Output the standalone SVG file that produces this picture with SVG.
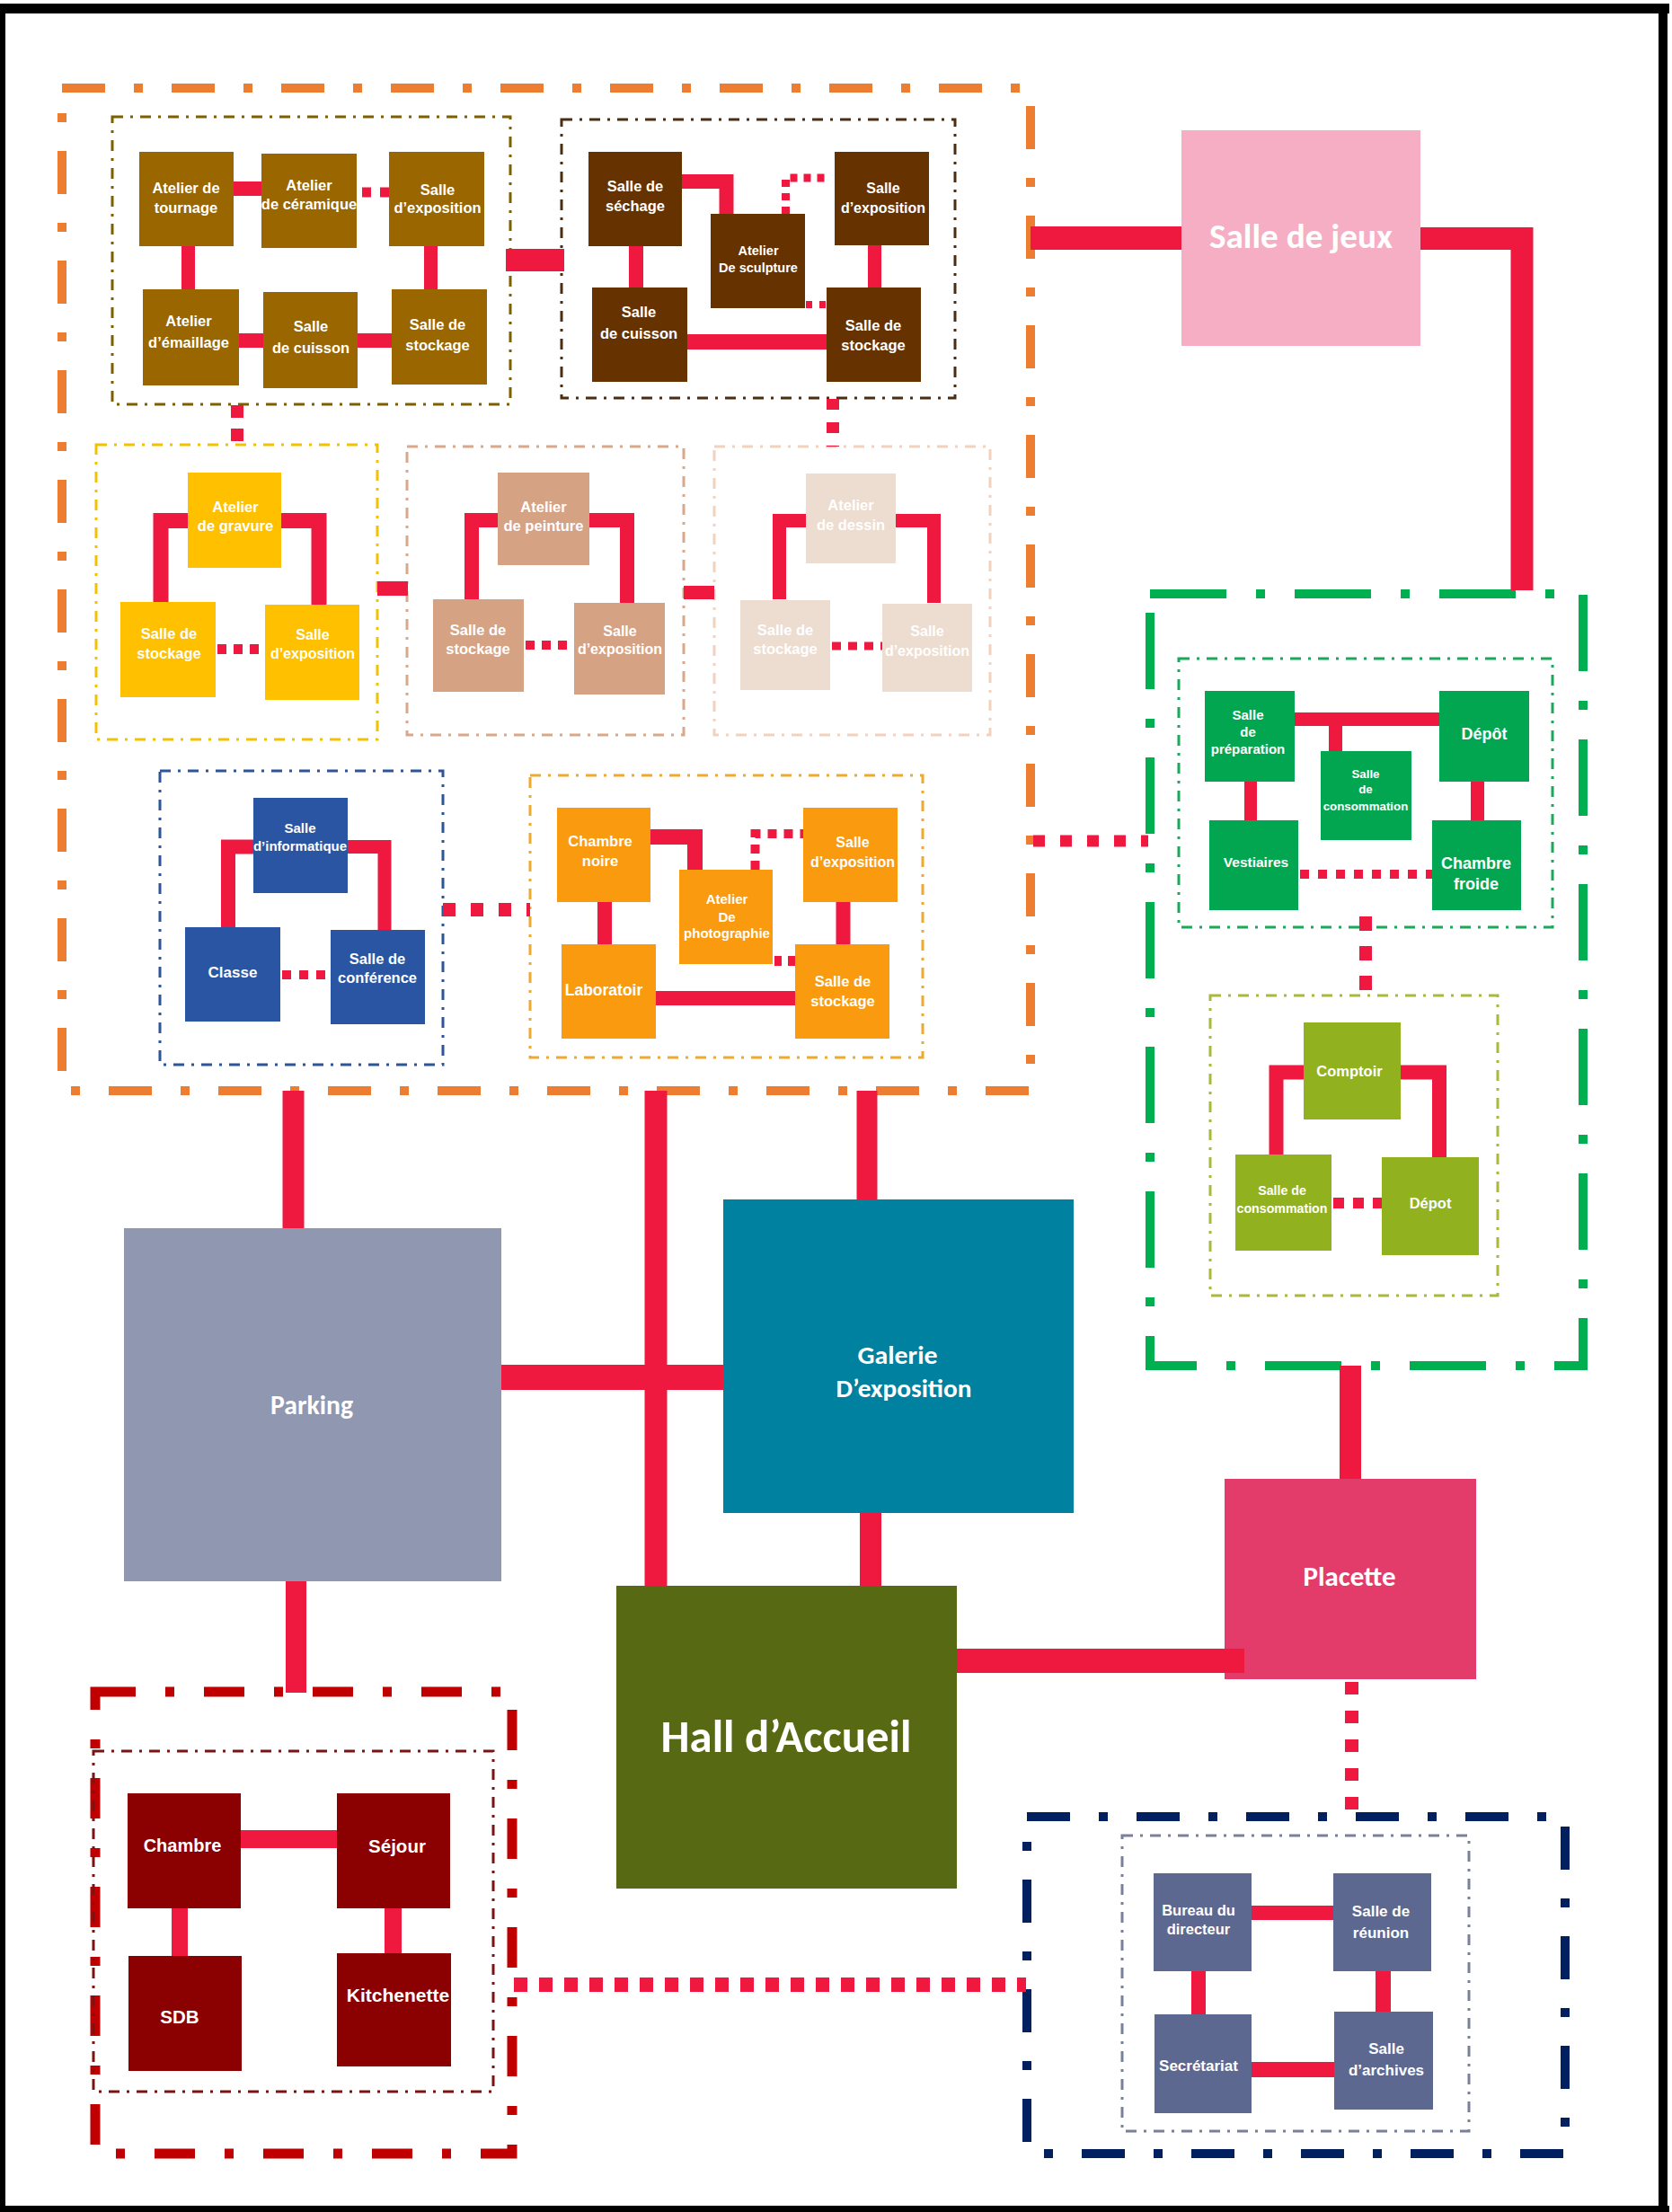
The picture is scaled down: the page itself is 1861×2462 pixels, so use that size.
<svg xmlns="http://www.w3.org/2000/svg" width="1861" height="2462" viewBox="0 0 1861 2462">
<defs>
<style>
  .zone { fill: none; }
  .outer { stroke-width: 10; stroke-dasharray: 48 32 10 32; }
  .inner { stroke-width: 3; stroke-dasharray: 12 8 3 8; }
  .t { font-family: "Liberation Sans", Arial, sans-serif; font-weight: bold; fill: #ffffff; text-anchor: middle; font-size: 16.5px; }
  .big { font-family: Carlito, Lato, "Open Sans", sans-serif; font-weight: bold; fill: #ffffff; text-anchor: middle; }
  .link { fill: none; stroke: #EF1940; stroke-linecap: butt; stroke-linejoin: miter; }
  .b1 { fill: #996600; } .b2 { fill: #663300; } .ye { fill: #FFC000; } .pe { fill: #D5A283; }
  .li { fill: #EDDCD0; } .bl { fill: #2A55A3; } .or { fill: #FA9A0E; } .gr { fill: #03A650; }
  .ol { fill: #92B11E; } .dr { fill: #8B0000; } .sl { fill: #5D6890; }
</style>
</defs>

<rect x="0" y="0" width="1861" height="2462" fill="#ffffff"/>

<!-- page frame -->
<g id="frame" fill="#000000">
  <rect x="0" y="4" width="1858" height="11"/>
  <rect x="0" y="4" width="6" height="2458"/>
  <rect x="1846" y="4" width="10" height="2458"/>
  <rect x="0" y="2455" width="1858" height="7"/>
</g>

<!-- zone outlines -->
<g id="zones" class="zone">
  <rect x="69" y="98" width="1078" height="1116" class="outer" stroke="#ED7D31"/>
  <rect x="125" y="130" width="443" height="320" class="inner" stroke="#7F6000"/>
  <rect x="625" y="133" width="438" height="310" class="inner" stroke="#4B2E12"/>
  <rect x="107" y="495" width="313" height="328" class="inner" stroke="#F2C200"/>
  <rect x="453" y="497" width="308" height="321" class="inner" stroke="#D9A88A"/>
  <rect x="795" y="497" width="307" height="321" class="inner" stroke="#F2D2BE"/>
  <rect x="178" y="858" width="315" height="327" class="inner" stroke="#2E5597"/>
  <rect x="590" y="863" width="437" height="314" class="inner" stroke="#EDAA2E"/>
  <rect x="1280" y="661" width="482" height="859" class="zone" stroke="#00B050" stroke-width="10" stroke-dasharray="85 33 10 33"/>
  <rect x="1312" y="733" width="416" height="299" class="inner" stroke="#1AA85A"/>
  <rect x="1347" y="1108" width="320" height="334" class="inner" stroke="#AAB93C"/>
  <rect x="106" y="1883" width="464" height="514" class="zone" stroke="#C00000" stroke-width="11" stroke-dasharray="45 33 10 33"/>
  <rect x="104" y="1949" width="445" height="379" class="inner" stroke="#7A1414"/>
  <rect x="1143" y="2022" width="599" height="375" class="outer" stroke="#002060" stroke-dasharray="42 33 10 33"/>
  <rect x="1249" y="2043" width="386" height="329" class="inner" stroke="#7A8099"/>
</g>

<!-- ceramics workshop -->
<g id="n-tournage"><rect x="155" y="169" width="105" height="105" class="b1"/><text class="t" x="207"><tspan x="207" y="215">Atelier  de</tspan><tspan x="207" y="237">tournage</tspan></text></g>
<g id="n-ceramique"><rect x="291" y="171" width="106" height="105" class="b1"/><text class="t" x="344"><tspan x="344" y="212">Atelier</tspan><tspan x="344" y="233">de céramique</tspan></text></g>
<g id="n-expo1"><rect x="433" y="169" width="106" height="105" class="b1"/><text class="t" x="487"><tspan x="487" y="217">Salle</tspan><tspan x="487" y="237">d’exposition</tspan></text></g>
<g id="n-emaillage"><rect x="159" y="322" width="107" height="107" class="b1"/><text class="t" x="210"><tspan x="210" y="363">Atelier</tspan><tspan x="210" y="387">d’émaillage</tspan></text></g>
<g id="n-cuisson1"><rect x="293" y="325" width="105" height="107" class="b1"/><text class="t" x="346"><tspan x="346" y="369">Salle</tspan><tspan x="346" y="393">de cuisson</tspan></text></g>
<g id="n-stockage1"><rect x="436" y="322" width="106" height="106" class="b1"/><text class="t" x="487"><tspan x="487" y="367">Salle de</tspan><tspan x="487" y="390">stockage</tspan></text></g>

<!-- sculpture workshop -->
<g id="n-sechage"><rect x="655" y="169" width="104" height="105" class="b2"/><text class="t" x="707"><tspan x="707" y="213">Salle  de</tspan><tspan x="707" y="235">séchage</tspan></text></g>
<g id="n-sculpture"><rect x="791" y="238" width="105" height="105" class="b2"/><text class="t" x="844" style="font-size:14.5px"><tspan x="844" y="284">Atelier</tspan><tspan x="844" y="303">De sculpture</tspan></text></g>
<g id="n-expo2"><rect x="929" y="169" width="105" height="104" class="b2"/><text class="t" x="983" style="font-size:16px"><tspan x="983" y="215">Salle</tspan><tspan x="983" y="237">d’exposition</tspan></text></g>
<g id="n-cuisson2"><rect x="659" y="320" width="106" height="105" class="b2"/><text class="t" x="711"><tspan x="711" y="353">Salle</tspan><tspan x="711" y="377">de cuisson</tspan></text></g>
<g id="n-stockage2"><rect x="920" y="320" width="105" height="105" class="b2"/><text class="t" x="972"><tspan x="972" y="368">Salle  de</tspan><tspan x="972" y="390">stockage</tspan></text></g>

<!-- engraving workshop -->
<g id="n-gravure"><rect x="209" y="526" width="104" height="106" class="ye"/><text class="t" x="262"><tspan x="262" y="570">Atelier</tspan><tspan x="262" y="591">de gravure</tspan></text></g>
<g id="n-stockage3"><rect x="134" y="670" width="106" height="106" class="ye"/><text class="t" x="188"><tspan x="188" y="711">Salle de</tspan><tspan x="188" y="733">stockage</tspan></text></g>
<g id="n-expo3"><rect x="295" y="673" width="105" height="106" class="ye"/><text class="t" x="348" style="font-size:16px"><tspan x="348" y="712">Salle</tspan><tspan x="348" y="733">d’exposition</tspan></text></g>

<!-- painting workshop -->
<g id="n-peinture"><rect x="554" y="526" width="102" height="103" class="pe"/><text class="t" x="605"><tspan x="605" y="570">Atelier</tspan><tspan x="605" y="591">de peinture</tspan></text></g>
<g id="n-stockage4"><rect x="482" y="667" width="101" height="103" class="pe"/><text class="t" x="532"><tspan x="532" y="707">Salle de</tspan><tspan x="532" y="728">stockage</tspan></text></g>
<g id="n-expo4"><rect x="639" y="671" width="101" height="102" class="pe"/><text class="t" x="690" style="font-size:16px"><tspan x="690" y="708">Salle</tspan><tspan x="690" y="728">d’exposition</tspan></text></g>

<!-- drawing workshop -->
<g id="n-dessin"><rect x="897" y="527" width="100" height="100" class="li"/><text class="t" x="947"><tspan x="947" y="568">Atelier</tspan><tspan x="947" y="590">de dessin</tspan></text></g>
<g id="n-stockage5"><rect x="824" y="668" width="100" height="100" class="li"/><text class="t" x="874"><tspan x="874" y="707">Salle de</tspan><tspan x="874" y="728">stockage</tspan></text></g>
<g id="n-expo5"><rect x="982" y="672" width="100" height="98" class="li"/><text class="t" x="1032" style="font-size:16px"><tspan x="1032" y="708">Salle</tspan><tspan x="1032" y="730">d’exposition</tspan></text></g>

<!-- teaching rooms -->
<g id="n-informatique"><rect x="282" y="888" width="105" height="106" class="bl"/><text class="t" x="334" style="font-size:15px"><tspan x="334" y="927">Salle</tspan><tspan x="334" y="947">d’informatique</tspan></text></g>
<g id="n-classe"><rect x="206" y="1032" width="106" height="105" class="bl"/><text class="t" x="259" y="1088" style="font-size:17px">Classe</text></g>
<g id="n-conference"><rect x="368" y="1035" width="105" height="105" class="bl"/><text class="t" x="420"><tspan x="420" y="1073">Salle de</tspan><tspan x="420" y="1094">conférence</tspan></text></g>

<!-- photography workshop -->
<g id="n-chambrenoire"><rect x="620" y="899" width="104" height="105" class="or"/><text class="t" x="668"><tspan x="668" y="942">Chambre</tspan><tspan x="668" y="964">noire</tspan></text></g>
<g id="n-photo"><rect x="756" y="968" width="104" height="105" class="or"/><text class="t" x="809" style="font-size:15px"><tspan x="809" y="1006">Atelier</tspan><tspan x="809" y="1026">De</tspan><tspan x="809" y="1044">photographie</tspan></text></g>
<g id="n-expo6"><rect x="894" y="899" width="105" height="105" class="or"/><text class="t" x="949" style="font-size:16px"><tspan x="949" y="943">Salle</tspan><tspan x="949" y="965">d’exposition</tspan></text></g>
<g id="n-labo"><rect x="625" y="1051" width="105" height="105" class="or"/><text class="t" x="672" y="1108" style="font-size:17.5px">Laboratoir</text></g>
<g id="n-stockage6"><rect x="885" y="1051" width="105" height="105" class="or"/><text class="t" x="938"><tspan x="938" y="1098">Salle de</tspan><tspan x="938" y="1120">stockage</tspan></text></g>

<!-- restaurant kitchen -->
<g id="n-preparation"><rect x="1341" y="769" width="100" height="101" class="gr"/><text class="t" x="1389" style="font-size:15px"><tspan x="1389" y="801">Salle</tspan><tspan x="1389" y="820">de</tspan><tspan x="1389" y="839">préparation</tspan></text></g>
<g id="n-depot1"><rect x="1602" y="769" width="100" height="101" class="gr"/><text class="t" x="1652" y="823" style="font-size:18px">Dépôt</text></g>
<g id="n-consommation1"><rect x="1470" y="836" width="101" height="99" class="gr"/><text class="t" x="1520" style="font-size:13.3px"><tspan x="1520" y="866">Salle</tspan><tspan x="1520" y="883">de</tspan><tspan x="1520" y="902">consommation</tspan></text></g>
<g id="n-vestiaires"><rect x="1346" y="913" width="99" height="100" class="gr"/><text class="t" x="1398" y="965" style="font-size:15.5px">Vestiaires</text></g>
<g id="n-chambrefroide"><rect x="1594" y="913" width="99" height="100" class="gr"/><text class="t" x="1643" style="font-size:18px"><tspan x="1643" y="967">Chambre</tspan><tspan x="1643" y="990">froide</tspan></text></g>

<!-- cafeteria -->
<g id="n-comptoir"><rect x="1451" y="1138" width="108" height="108" class="ol"/><text class="t" x="1502" y="1198">Comptoir</text></g>
<g id="n-consommation2"><rect x="1375" y="1285" width="107" height="107" class="ol"/><text class="t" x="1427" style="font-size:14.2px"><tspan x="1427" y="1330">Salle de</tspan><tspan x="1427" y="1350">consommation</tspan></text></g>
<g id="n-depot2"><rect x="1538" y="1288" width="108" height="109" class="ol"/><text class="t" x="1592" y="1345">Dépot</text></g>

<!-- caretaker lodging -->
<g id="n-chambre"><rect x="142" y="1996" width="126" height="128" class="dr"/><text class="t" x="203" y="2061" style="font-size:20px">Chambre</text></g>
<g id="n-sejour"><rect x="375" y="1996" width="126" height="128" class="dr"/><text class="t" x="442" y="2062" style="font-size:20.5px">Séjour</text></g>
<g id="n-sdb"><rect x="143" y="2177" width="126" height="128" class="dr"/><text class="t" x="200" y="2252" style="font-size:20.5px">SDB</text></g>
<g id="n-kitchenette"><rect x="375" y="2174" width="127" height="126" class="dr"/><text class="t" x="443" y="2228" style="font-size:21px">Kitchenette</text></g>

<!-- administration -->
<g id="n-bureau"><rect x="1284" y="2085" width="109" height="109" class="sl"/><text class="t" x="1334"><tspan x="1334" y="2132">Bureau du</tspan><tspan x="1334" y="2153">directeur</tspan></text></g>
<g id="n-reunion"><rect x="1484" y="2085" width="109" height="109" class="sl"/><text class="t" x="1537" style="font-size:17px"><tspan x="1537" y="2133">Salle de</tspan><tspan x="1537" y="2157">réunion</tspan></text></g>
<g id="n-secretariat"><rect x="1285" y="2242" width="108" height="110" class="sl"/><text class="t" x="1334" y="2305" style="font-size:17px">Secrétariat</text></g>
<g id="n-archives"><rect x="1485" y="2239" width="110" height="109" class="sl"/><text class="t" x="1543" style="font-size:17px"><tspan x="1543" y="2286">Salle</tspan><tspan x="1543" y="2310">d’archives</tspan></text></g>

<!-- main spaces -->
<g id="n-jeux"><rect x="1315" y="145" width="266" height="240" fill="#F5AEC3"/><text class="big" x="1448" y="276" font-size="38" textLength="204" lengthAdjust="spacingAndGlyphs">Salle de jeux</text></g>
<g id="n-parking"><rect x="138" y="1367" width="420" height="393" fill="#8F97B1"/><text class="big" x="347" y="1574" font-size="31" textLength="92" lengthAdjust="spacingAndGlyphs">Parking</text></g>
<g id="n-galerie"><rect x="805" y="1335" width="390" height="349" fill="#00819F"/><text class="big" font-size="29"><tspan x="999" y="1518" textLength="89" lengthAdjust="spacingAndGlyphs">Galerie</tspan><tspan x="1006" y="1555" textLength="151" lengthAdjust="spacingAndGlyphs">D’exposition</tspan></text></g>
<g id="n-hall"><rect x="686" y="1765" width="379" height="337" fill="#586914"/><text class="big" x="875" y="1950" font-size="50" textLength="279" lengthAdjust="spacingAndGlyphs">Hall d’Accueil</text></g>
<g id="n-placette"><rect x="1363" y="1646" width="280" height="223" fill="#E43C6A"/><text class="big" x="1502" y="1765" font-size="31" textLength="103" lengthAdjust="spacingAndGlyphs">Placette</text></g>

<!-- connectors -->
<g id="connectors" class="link">
  <!-- ceramics -->
  <path d="M260 210 H291" stroke-width="16"/>
  <path d="M403 214 H433" stroke-width="11" stroke-dasharray="10 10"/>
  <path d="M209.5 274 V322" stroke-width="15"/>
  <path d="M479.5 274 V322" stroke-width="15"/>
  <path d="M266 379 H293" stroke-width="16"/>
  <path d="M398 379 H436" stroke-width="16"/>
  <!-- sculpture -->
  <path d="M759 202 H808.5 V238" stroke-width="16"/>
  <path d="M874.5 238 V198 H923" stroke-width="9" stroke-dasharray="8 7"/>
  <path d="M708 274 V320" stroke-width="16"/>
  <path d="M973.5 273 V320" stroke-width="15"/>
  <path d="M765 380.5 H920" stroke-width="17"/>
  <path d="M897 339 H920" stroke-width="8" stroke-dasharray="7 8"/>
  <!-- engraving / painting / drawing -->
  <path d="M209 579.5 H179 V670" stroke-width="17"/>
  <path d="M313 579.5 H355 V673" stroke-width="17"/>
  <path d="M242 722.5 H295" stroke-width="11" stroke-dasharray="10 8"/>
  <path d="M554 579 H525 V667" stroke-width="16"/>
  <path d="M656 579 H698 V671" stroke-width="16"/>
  <path d="M585 718 H639" stroke-width="10" stroke-dasharray="10 8"/>
  <path d="M897 579.5 H867.5 V667" stroke-width="15"/>
  <path d="M997 579.5 H1039.5 V671" stroke-width="15"/>
  <path d="M926 719 H982" stroke-width="9" stroke-dasharray="10 8"/>
  <path d="M420 655 H454" stroke-width="16"/>
  <path d="M761 659.5 H795" stroke-width="15"/>
  <path d="M264 451 V495" stroke-width="14" stroke-dasharray="14 12"/>
  <path d="M927 444 V497" stroke-width="14" stroke-dasharray="12 14"/>
  <!-- teaching -->
  <path d="M282 942.5 H254 V1032" stroke-width="16"/>
  <path d="M387 942.5 H428 V1035" stroke-width="15"/>
  <path d="M314 1085 H368" stroke-width="10" stroke-dasharray="10 9"/>
  <path d="M493 1012.5 H590" stroke-width="15" stroke-dasharray="14 17"/>
  <!-- photography -->
  <path d="M724 931.5 H773.5 V968" stroke-width="17"/>
  <path d="M840.5 968 V928 H894" stroke-width="10" stroke-dasharray="10 8"/>
  <path d="M673 1004 V1051" stroke-width="16"/>
  <path d="M938.5 1004 V1051" stroke-width="16"/>
  <path d="M730 1111 H885" stroke-width="16"/>
  <path d="M862 1069.5 H885" stroke-width="11" stroke-dasharray="8 7"/>
  <!-- kitchen / cafeteria -->
  <path d="M1441 800.5 H1602" stroke-width="15"/>
  <path d="M1486.5 808 V836" stroke-width="15"/>
  <path d="M1392 870 V913" stroke-width="14"/>
  <path d="M1644.5 870 V913" stroke-width="15"/>
  <path d="M1447 973 H1594" stroke-width="10" stroke-dasharray="10 10"/>
  <path d="M1451 1193.5 H1420.5 V1285" stroke-width="16"/>
  <path d="M1559 1193.5 H1602 V1288" stroke-width="16"/>
  <path d="M1484 1339 H1538" stroke-width="12" stroke-dasharray="12 10"/>
  <path d="M1520 1020 V1108" stroke-width="14" stroke-dasharray="16 17"/>
  <path d="M1150 936 H1278" stroke-width="13" stroke-dasharray="13 17"/>
  <!-- lodging -->
  <path d="M268 2047 H375" stroke-width="20"/>
  <path d="M200 2124 V2177" stroke-width="18"/>
  <path d="M437.5 2124 V2174" stroke-width="19"/>
  <!-- administration -->
  <path d="M1393 2129 H1484" stroke-width="16"/>
  <path d="M1393 2303.5 H1485" stroke-width="17"/>
  <path d="M1334 2194 V2242" stroke-width="16"/>
  <path d="M1539.5 2194 V2239" stroke-width="17"/>
  <!-- main circulation -->
  <path d="M1147 265 H1315" stroke-width="26"/>
  <path d="M1581 265.5 H1694 V657" stroke-width="25"/>
  <path d="M563 289.5 H628" stroke-width="25"/>
  <path d="M326.5 1214 V1367" stroke-width="24"/>
  <path d="M730 1214 V1765" stroke-width="25"/>
  <path d="M965 1214 V1335" stroke-width="23"/>
  <path d="M558 1533 H805" stroke-width="28"/>
  <path d="M969 1684 V1765" stroke-width="24"/>
  <path d="M329.5 1760 V1884" stroke-width="23"/>
  <path d="M1065 1848.5 H1385" stroke-width="27"/>
  <path d="M1503 1520 V1646" stroke-width="24"/>
  <path d="M1504.5 1872 V2022" stroke-width="15" stroke-dasharray="14 18"/>
  <path d="M572 2209 H1142" stroke-width="16" stroke-dasharray="15 13"/>
</g>
</svg>
